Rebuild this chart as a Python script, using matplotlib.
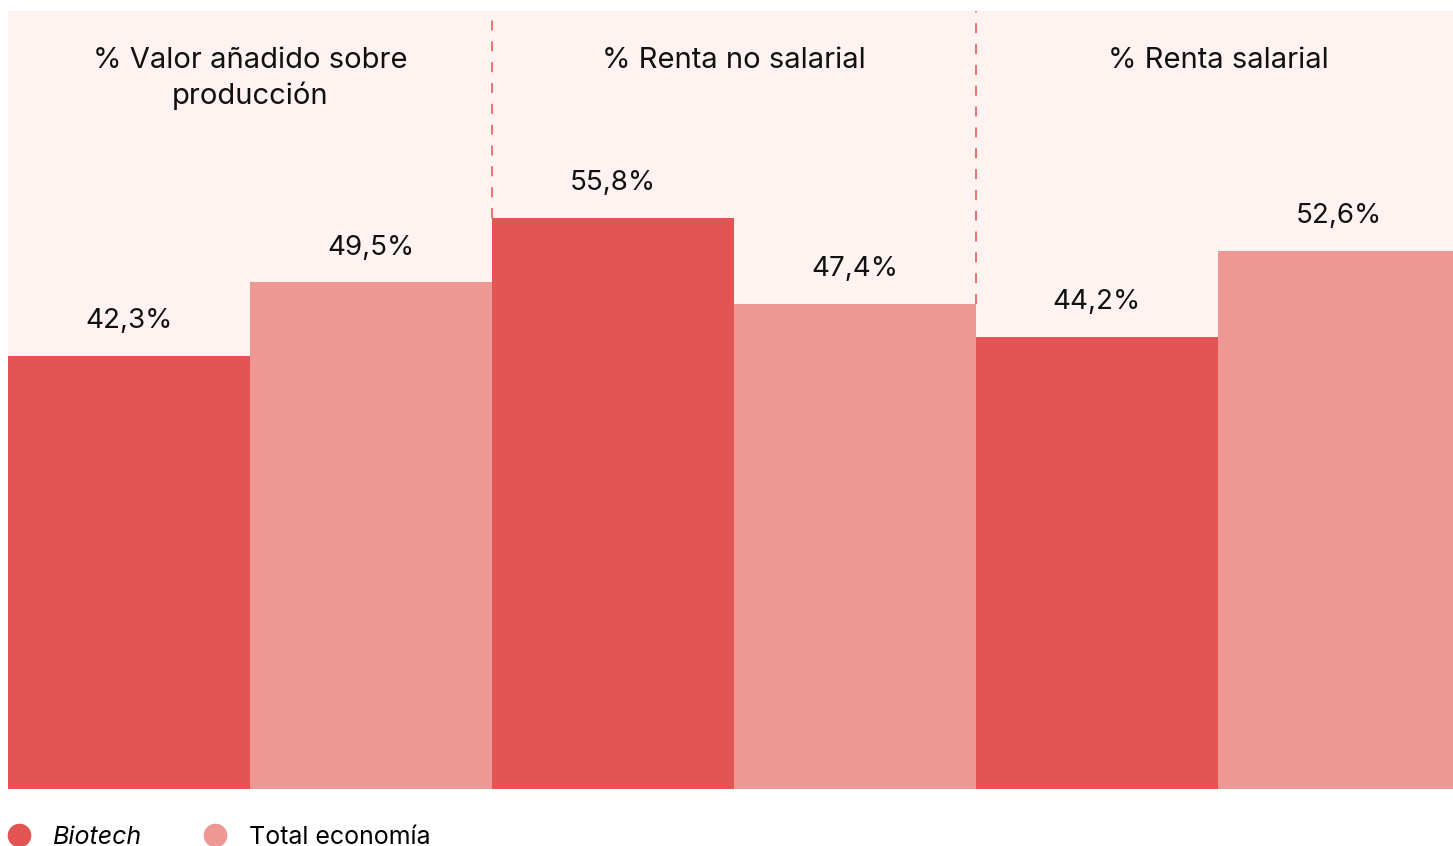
import matplotlib
matplotlib.use("Agg")
import matplotlib.pyplot as plt
from matplotlib.lines import Line2D

groups = ["% Valor añadido sobre\nproducción", "% Renta no salarial", "% Renta salarial"]
biotech = [42.3, 55.8, 44.2]
total = [49.5, 47.4, 52.6]
series_names = ["Biotech", "Total economía"]

C_BIO = "#E35553"
C_TOT = "#EE9896"
C_BG = "#FFF3F2"
C_DASH = "#EE5A5A"

plt.rcParams["font.family"] = ["Inter", "DejaVu Sans"]

fig = plt.figure(figsize=(14.53, 8.46), dpi=100)
# six bars of equal width; the last one runs slightly past the right edge
ax = fig.add_axes([8 / 1453, 57 / 846, 1452 / 1453, 778 / 846])
ax.set_facecolor(C_BG)

YMAX = 76
n = len(groups)
for i in range(n):
    xb = 2 * i
    xt = 2 * i + 1
    ax.bar(xb, biotech[i], width=1.0, color=C_BIO, linewidth=0)
    ax.bar(xt, total[i], width=1.0, color=C_TOT, linewidth=0)
    for x, v in ((xb, biotech[i]), (xt, total[i])):
        ax.text(x, v + 2.1, f"{v:.1f}%".replace(".", ","), ha="center",
                va="bottom", fontsize=20, color="#111111")
    ax.text(xb + 0.5, YMAX - 3.5, groups[i], ha="center", va="top",
            fontsize=21, color="#111111", linespacing=1.35)

# separators between groups, stopping at the tallest neighbouring bar
for i in range(1, n):
    xs = 2 * i - 0.5
    lo = max(total[i - 1], biotech[i])
    ax.plot([xs, xs], [lo, YMAX], color=C_DASH, lw=1.2, ls=(0, (6, 6.5)))

ax.set_xlim(-0.5, 2 * n - 0.5)
ax.set_ylim(0, YMAX)
ax.set_xticks([])
ax.set_yticks([])
for s in ax.spines.values():
    s.set_visible(False)

# legend along the bottom
handles = [
    Line2D([], [], marker="o", ls="", markersize=16, color=C_BIO),
    Line2D([], [], marker="o", ls="", markersize=16, color=C_TOT),
]
leg = fig.legend(handles, series_names, loc="lower left",
                 bbox_to_anchor=(-0.006, -0.021), ncol=2, frameon=False,
                 fontsize=18, handletextpad=0.88, columnspacing=2.4,
                 handlelength=1.0, borderaxespad=0.2)
leg.get_texts()[0].set_fontstyle("italic")

fig.savefig("out.png", dpi=100)
